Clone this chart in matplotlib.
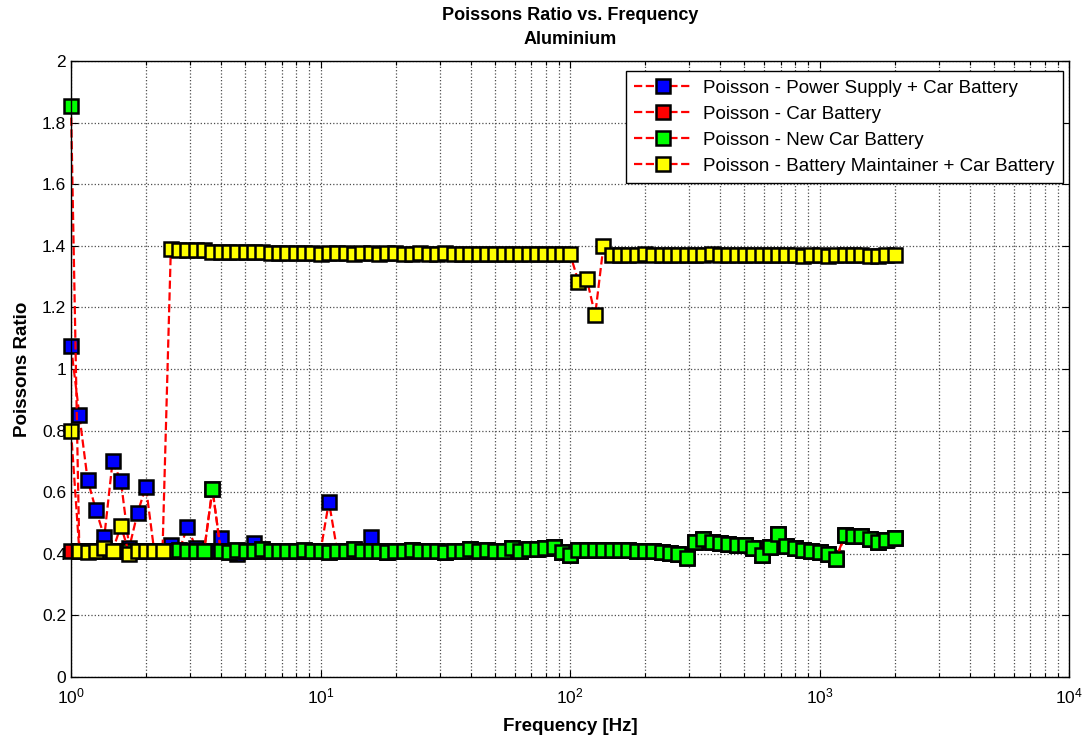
import numpy as np
import matplotlib
matplotlib.use('Agg')
import matplotlib.pyplot as plt
from matplotlib.ticker import LogLocator, NullFormatter

plt.rcParams['font.family'] = ['Liberation Sans', 'DejaVu Sans']

# frequency sweep: 100 log-spaced points, 1 Hz .. 2 kHz
freq = np.geomspace(1.0, 2000.0, 100)

pr_power_supply = [1.075, 0.851, 0.640, 0.542, 0.455, 0.701, 0.636, 0.420, 0.533, 0.618,
                   0.410, 0.410, 0.430, 0.410, 0.488, 0.420, 0.410, 0.410, 0.450, 0.410,
                   0.400, 0.410, 0.435, 0.410, 0.410, 0.410, 0.410, 0.410, 0.410, 0.410,
                   0.410, 0.569, 0.410, 0.410, 0.410, 0.410, 0.455,
                   0.410, 0.405, 0.410, 0.410, 0.412, 0.410, 0.410, 0.410, 0.405, 0.410,
                   0.410, 0.415, 0.410, 0.412, 0.410, 0.410, 0.420, 0.410, 0.415, 0.415, 0.420,
                   0.423, 0.407, 0.396,
                   0.413, 0.414, 0.414, 0.413, 0.412, 0.413, 0.412, 0.410, 0.410, 0.408, 0.405, 0.403, 0.400,
                   0.388, 0.440, 0.447, 0.440, 0.436, 0.432, 0.430, 0.428, 0.420, 0.396, 0.423, 0.466, 0.425,
                   0.420, 0.414, 0.410, 0.405, 0.400, 0.383, 0.461, 0.457, 0.458, 0.449, 0.439, 0.445, 0.450]

pr_car_battery = [0.410, 0.410, 0.410, 0.410, 0.410, 0.410, 0.410, 0.410, 0.410, 0.410,
                  0.410, 0.410, 0.410, 0.412, 0.410, 0.408, 0.410, 0.610,
                  0.410, 0.405, 0.412, 0.410, 0.410, 0.415, 0.410, 0.410, 0.408, 0.410,
                  0.412, 0.410, 0.410, 0.405, 0.410, 0.410, 0.415, 0.410, 0.410, 0.410,
                  0.405, 0.410, 0.410, 0.412, 0.410, 0.410, 0.410, 0.405, 0.410, 0.410,
                  0.415, 0.410, 0.412, 0.410, 0.410, 0.420, 0.410, 0.415, 0.415, 0.420,
                  0.423, 0.407, 0.396,
                  0.413, 0.414, 0.414, 0.413, 0.412, 0.413, 0.412, 0.410, 0.410, 0.408, 0.405, 0.403, 0.400,
                  0.392, 0.440, 0.447, 0.440, 0.436, 0.432, 0.430, 0.428, 0.420, 0.396, 0.423, 0.466, 0.425,
                  0.420, 0.414, 0.410, 0.405, 0.400, 0.388, 0.461, 0.457, 0.458, 0.449, 0.439, 0.445, 0.450]

pr_new_battery = [1.855, 0.410, 0.410, 0.410, 0.410, 0.410, 0.410, 0.410, 0.410, 0.410,
                  0.410, 0.410, 0.410, 0.412, 0.410, 0.408, 0.410, 0.610,
                  0.410, 0.405, 0.412, 0.410, 0.410, 0.415, 0.410, 0.410, 0.408, 0.410,
                  0.412, 0.410, 0.410, 0.405, 0.410, 0.410, 0.415, 0.410, 0.410, 0.410,
                  0.405, 0.410, 0.410, 0.412, 0.410, 0.410, 0.410, 0.405, 0.410, 0.410,
                  0.415, 0.410, 0.412, 0.410, 0.410, 0.420, 0.410, 0.415, 0.415, 0.420,
                  0.423, 0.407, 0.396,
                  0.413, 0.414, 0.414, 0.413, 0.412, 0.413, 0.412, 0.410, 0.410, 0.408, 0.405, 0.403, 0.400,
                  0.388, 0.440, 0.447, 0.440, 0.436, 0.432, 0.430, 0.428, 0.420, 0.396, 0.423, 0.466, 0.425,
                  0.420, 0.414, 0.410, 0.405, 0.400, 0.383, 0.461, 0.457, 0.458, 0.449, 0.439, 0.445, 0.450]

pr_maintainer = [0.800, 0.410, 0.405, 0.410, 0.420, 0.410, 0.491, 0.400, 0.410, 0.410, 0.410, 0.410,
                 1.390, 1.386, 1.386, 1.386, 1.386,
                 1.381, 1.381, 1.381, 1.381, 1.381, 1.381, 1.381,
                 1.378, 1.377, 1.376, 1.376, 1.377, 1.376, 1.375, 1.376, 1.376, 1.376,
                 1.375, 1.376, 1.376, 1.375, 1.376, 1.376, 1.375, 1.375, 1.376, 1.375,
                 1.375, 1.376, 1.375, 1.375, 1.374, 1.375, 1.375, 1.374, 1.375, 1.374,
                 1.374, 1.375, 1.374, 1.374, 1.374, 1.373,
                 1.373, 1.283, 1.292, 1.175, 1.400,
                 1.372, 1.372, 1.372, 1.372, 1.373, 1.372, 1.372, 1.372, 1.372, 1.372,
                 1.371, 1.372, 1.374, 1.372, 1.372, 1.371, 1.370, 1.372, 1.371, 1.370,
                 1.372, 1.371, 1.370, 1.368, 1.371, 1.370, 1.368, 1.370, 1.370, 1.369,
                 1.370, 1.368, 1.368, 1.369, 1.369]

labels = ['Poisson - Power Supply + Car Battery', 'Poisson - Car Battery',
          'Poisson - New Car Battery', 'Poisson - Battery Maintainer + Car Battery']
face_colors = ['#0000ff', '#ff0000', '#00ff00', '#ffff00']

fig = plt.figure(figsize=(10.84, 7.42), dpi=100)
ax = fig.add_axes([0.0655, 0.0876, 0.9207, 0.830])

for y, lab, fc in zip([pr_power_supply, pr_car_battery, pr_new_battery, pr_maintainer], labels, face_colors):
    ax.plot(freq, y, '--s', color='red', lw=1.6, markersize=10.5, markerfacecolor=fc,
            markeredgecolor='black', markeredgewidth=1.8, label=lab, clip_on=False)

ax.set_xscale('log')
ax.set_xlim(1, 1e4)
ax.set_ylim(0, 2)
yt = np.arange(0, 2.01, 0.2)
ax.set_yticks(yt)
ax.set_yticklabels(['%g' % v for v in yt])
ax.xaxis.set_minor_locator(LogLocator(base=10, subs=np.arange(2, 10), numticks=20))
ax.xaxis.set_minor_formatter(NullFormatter())

ax.grid(True, which='major', ls=':', color='0.3', lw=0.9)
ax.grid(True, which='minor', axis='x', ls=':', color='0.3', lw=0.9)
ax.tick_params(which='both', direction='in', top=True, right=True, labelsize=12.5, width=0.8)
ax.tick_params(which='major', length=5)
ax.tick_params(which='minor', length=3)
ax.tick_params(axis='x', pad=7)
for s in ax.spines.values():
    s.set_linewidth(1.0)

ax.set_title('Poissons Ratio vs. Frequency\nAluminium', fontsize=13, fontweight='bold', pad=12,
             linespacing=1.6)
ax.set_xlabel('Frequency [Hz]', fontsize=13.5, fontweight='bold', labelpad=8)
ax.set_ylabel('Poissons Ratio', fontsize=13.5, fontweight='bold', labelpad=8)

leg = ax.legend(loc='upper right', fontsize=13.5, fancybox=False, edgecolor='black', framealpha=1,
                borderaxespad=0.2, handlelength=3.1, labelspacing=0.48, borderpad=0.45,
                handletextpad=0.6, bbox_to_anchor=(0.998, 0.99))
leg.get_frame().set_linewidth(1.0)

fig.savefig('out.png', dpi=100)
